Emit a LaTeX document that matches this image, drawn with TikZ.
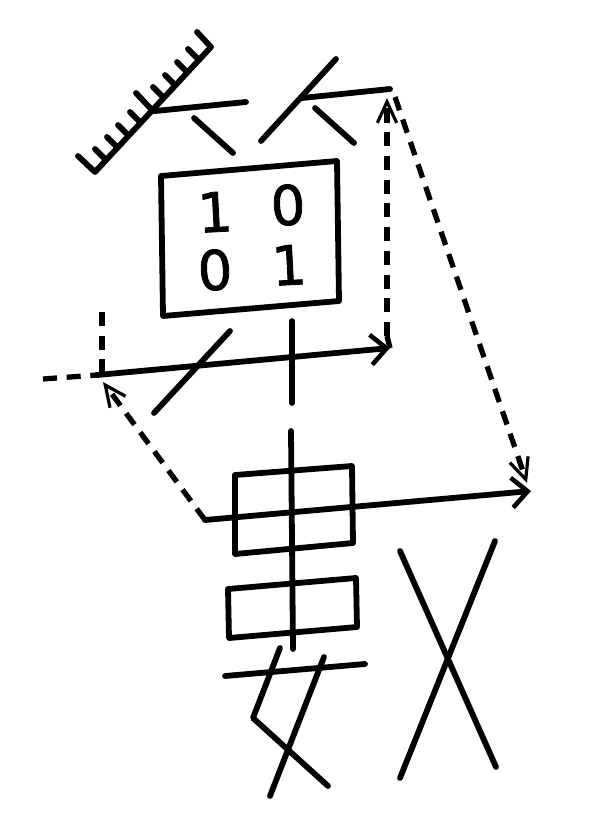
\documentclass[tikz,border=0pt]{standalone}
\usepackage{fontspec}
\newfontfamily\digitfont[FakeBold=1.6]{DejaVu Sans}
\usetikzlibrary{arrows.meta}

\tikzset{
  beam/.style={line width=3.3pt, line cap=round, line join=round},
  dashbeam/.style={line width=3pt, dash pattern=on 8pt off 5.5pt},
  beamtip/.style={-{Straight Barb[length=9pt, width=17pt, line width=2.6pt]}},
  dashtip/.style={-{Straight Barb[length=12pt, width=11pt, line width=1.8pt]}},
  digit/.style={font=\digitfont\fontsize{31}{31}\selectfont, rotate=3, inner sep=0pt},
}

\begin{document}
\begin{tikzpicture}[x=0.02cm, y=-0.02cm]
  \useasboundingbox (0,0) rectangle (595,829);

  \coordinate (M) at (390,89);
  \coordinate (E) at (97,375);
  \coordinate (F) at (390,348);
  \coordinate (G) at (205,520);
  \coordinate (H) at (531,491);

  % grating
  \draw[beam] (197,32) -- (211,47) -- (95,172) -- (78,156);
  \foreach \x/\y in {95/149, 107/137, 118/125, 130/112, 153/87, 165/75, 177/62, 188/49}
    \draw[beam] (\x,\y) -- ++(10,10);
  \draw[beam] (136,93) -- (153,111);

  % upper beam and mirrors
  \draw[beam] (155,111) -- (246,102);
  \draw[beam] (194,118) -- (233,153);
  \draw[beam] (336,59) -- (261,141);
  \draw[beam] (302,98) -- (M);
  \draw[beam] (315,108) -- (354,143);

  % matrix box
  \draw[beam] (161,176) -- (337,161) -- (339,301) -- (163,316) -- cycle;
  \node[digit] (a) at (215,212) {1};
  \node[digit] (b) at (288,205) {0};
  \node[digit] (c) at (215,270) {0};
  \node[digit] (d) at (289,265) {1};

  % middle beam
  \draw[beam, beamtip] (E) -- (F);
  \draw[dashbeam] (43,379) -- (E);
  \draw[dashbeam] (102,312) -- (102,375);
  \draw[beam] (230,331) -- (154,413);
  \draw[beam] (292,321) -- (292,403);

  % dashed arrows
  \draw[dashbeam, dashtip] (387,336) -- (387,98);
  \draw[dashbeam] (F) -- (387,336);
  \draw[dashbeam, dashtip] (395,97) -- (527,483);
  \draw[dashbeam, dashtip] (G) -- (103,382);

  % lower beam and axis
  \draw[beam, beamtip] (G) -- (H);
  \draw[beam] (291,431) -- (293,649);
  \draw[beam] (235,475) -- (352,466) -- (353,543) -- (235,554) -- cycle;
  \draw[beam] (228,589) -- (356,578) -- (357,627) -- (229,638) -- cycle;

  % bottom strokes
  \draw[beam] (225,676) -- (365,664);
  \draw[beam] (280,648) -- (253,718) -- (328,786);
  \draw[beam] (324,657) -- (270,796);
  \draw[beam] (400,551) -- (496,767);
  \draw[beam] (495,541) -- (400,778);
\end{tikzpicture}
\end{document}
